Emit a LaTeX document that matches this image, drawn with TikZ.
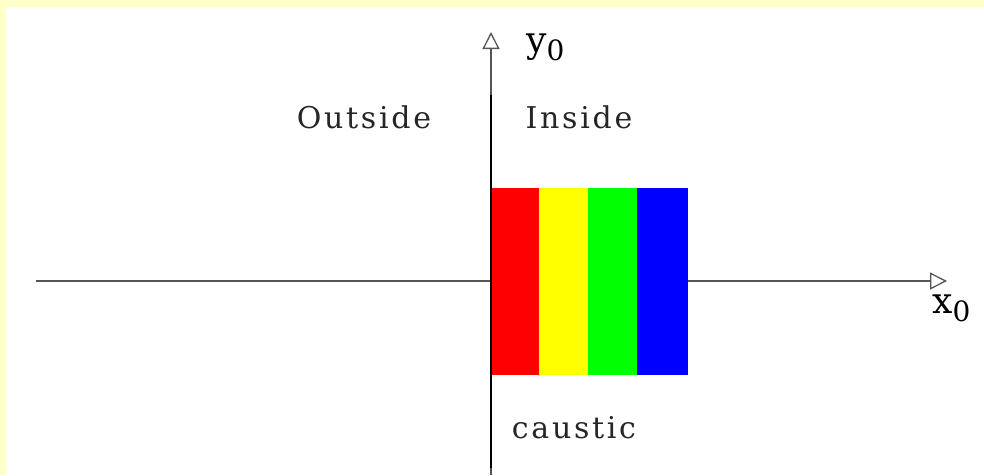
\documentclass[tikz,border=0pt]{standalone}
\usepackage{fontspec}
\setmainfont{DejaVu Serif}[LetterSpace=9]
\usetikzlibrary{arrows.meta}
\definecolor{frameyellow}{HTML}{FFFFC8}
\definecolor{axisgray}{HTML}{555555}
\definecolor{bred}{HTML}{FF0000}
\definecolor{byellow}{HTML}{FFFF00}
\definecolor{bgreen}{HTML}{00FF00}
\definecolor{bblue}{HTML}{0000FF}
\tikzset{
  axisline/.style={draw=axisgray, line width=1.3pt, -{Triangle[open, length=17pt, width=17pt, line width=1.3pt]}},
  band/.style={draw=none, minimum height=187pt, inner sep=0pt, anchor=north west},
  lbl/.style={inner sep=0pt, font=\fontsize{30}{34}\selectfont, text=black!85},
  axlbl/.style={inner sep=0pt, font=\fontsize{36}{40}\selectfont, anchor=base west},
}
\newcommand{\subz}{\raisebox{-0.45ex}{\fontsize{28}{32}\selectfont 0}}
\begin{document}
\begin{tikzpicture}[x=1pt, y=-1pt]
\useasboundingbox (0,0) rectangle (984,475);
\fill[frameyellow] (0,0) rectangle (984,475);
\fill[white] (6,7) rectangle (984,475);
% axes
\coordinate (xs) at (36,281);
\coordinate (xe) at (947,281);
\coordinate (ys) at (491,475);
\coordinate (ye2) at (491,32);
\draw[axisline] (xs) -- (xe);
\draw[axisline] (ys) -- (ye2);
% colour bands
\node[band, fill=bred, minimum width=48pt] (r) at (491,188) {};
\node[band, fill=byellow, minimum width=49pt] (ye) at (539,188) {};
\node[band, fill=bgreen, minimum width=49pt] (g) at (588,188) {};
\node[band, fill=bblue, minimum width=51pt] (b) at (637,188) {};
% caustic line
\coordinate (c1) at (491,95);
\coordinate (c2) at (491,468);
\draw[black, line width=2.6pt] (c1) -- (c2);
% labels
\node[axlbl] (ylab) at (526,52) {y\subz};
\node[axlbl] (xlab) at (932,313) {x\subz};
\node[lbl] (out) at (364,117) {Outside};
\node[lbl] (ins) at (579,117) {Inside};
\node[lbl] (cau) at (574,428) {caustic};
\end{tikzpicture}
\end{document}
